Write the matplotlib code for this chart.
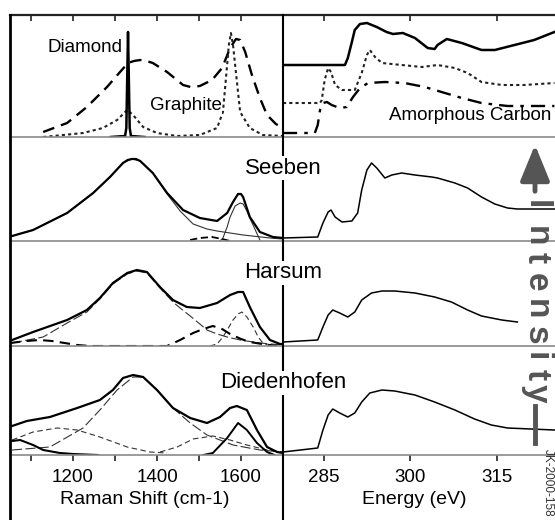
import matplotlib
matplotlib.use('Agg')
import matplotlib.pyplot as plt
from matplotlib.lines import Line2D
from matplotlib.patches import FancyArrowPatch

plt.rcParams['font.family'] = ['Liberation Sans', 'DejaVu Sans']

W, H = 555, 520     # figure size in pixels

# ── Data: reference spectra (top row) ────────────────────────────────────────
DIAMOND_X = [1290, 1324, 1327, 1329, 1331, 1333, 1335, 1338, 1370]
DIAMOND_Y = [0, 1, 9, 57, 105, 57, 9, 1, 0]

GRAPHITE_X = [1129, 1224, 1271, 1305, 1329, 1343, 1367, 1400, 1448, 1502, 1543,
              1557, 1567, 1571, 1576, 1581, 1586, 1598, 1621, 1652, 1700]
GRAPHITE_Y = [0, 4, 9, 17, 27, 22, 10, 4, 1, 2, 9, 25, 72, 92, 104, 92, 72, 25, 9, 2, 1]

GLASSY_X = [1129, 1186, 1233, 1281, 1312, 1331, 1345, 1360, 1375, 1390, 1424, 1462,
            1480, 1502, 1531, 1555, 1574, 1588, 1598, 1610, 1626, 1645, 1662, 1683, 1700]
GLASSY_Y = [5, 14, 30, 50, 65, 74, 76, 77, 76, 74, 65, 52, 50, 51, 57, 69, 89, 98, 97,
            85, 62, 39, 22, 13, 9]

REF_SOLID_E = [278, 288.7, 289.2, 289.9, 290.4, 291.3, 292.5, 294.2, 295.9, 297.0,
               298.7, 300.8, 303.0, 304.2, 304.7, 306.3, 308.9, 312.3, 314.6, 318.0,
               321.4, 324.9]
REF_SOLID_I = [72, 72, 79, 95, 107, 113, 114, 110, 105, 103, 104, 99, 89, 88, 92, 98,
               94, 87, 87, 92, 97, 105]

REF_DOT_E = [278, 284.4, 284.7, 285.2, 285.8, 286.3, 287.0, 288.2, 290.4, 291.6, 292.5,
             293.0, 293.9, 295.1, 298.5, 302.0, 304.7, 307.7, 309.9, 312.3, 315.8,
             319.7, 324.9]
REF_DOT_I = [34, 34, 37, 57, 69, 65, 52, 47, 47, 64, 82, 87, 80, 74, 72, 70, 72, 69, 64,
             55, 52, 52, 54]

REF_DASH_E = [278, 283.5, 284.0, 284.4, 284.9, 285.6, 286.4, 287.8, 289.0, 290.1, 291.3,
              292.7, 295.6, 299.0, 302.5, 305.4, 308.9, 312.3, 316.8, 324.9]
REF_DASH_I = [4, 4, 12, 27, 34, 35, 32, 29, 30, 40, 49, 54, 55, 54, 50, 45, 39, 34, 31, 31]

# ── Data: Seeben ─────────────────────────────────────────────────────────────
SEEBEN_SUM_X = [1055, 1105, 1186, 1248, 1288, 1319, 1330, 1340, 1350, 1360, 1390, 1424,
                1462, 1502, 1543, 1567, 1581, 1593, 1600, 1605, 1621, 1645, 1676, 1700]
SEEBEN_SUM_Y = [5, 11, 28, 48, 64, 78, 81, 82, 82, 80, 68, 48, 31, 23, 20, 28, 39, 47,
                47, 44, 24, 9, 4, 3]
SEEBEN_D_X = [1055, 1105, 1186, 1248, 1288, 1319, 1340, 1360, 1390, 1424, 1455, 1486,
              1519, 1543, 1605, 1669, 1700]
SEEBEN_D_Y = [5, 11, 28, 48, 64, 78, 82, 80, 68, 47, 30, 17, 12, 10, 6, 3, 2]
SEEBEN_G_X = [1550, 1557, 1567, 1574, 1586, 1598, 1605, 1614, 1621, 1633, 1645]
SEEBEN_G_Y = [0, 3, 14, 24, 35, 38, 37, 30, 23, 12, 1]
SEEBEN_D3_X = [1479, 1502, 1531, 1555, 1574]
SEEBEN_D3_Y = [1, 3, 4, 2, 0]

SEEBEN_E = [278, 284.0, 284.9, 285.8, 286.3, 287.0, 288.2, 289.9, 290.9, 291.6, 292.5,
            293.3, 294.2, 295.6, 296.8, 298.5, 300.8, 303.7, 304.7, 307.7, 309.9, 312.3,
            314.6, 316.8, 318.5, 324.9]
SEEBEN_XAS = [3, 4, 18, 29, 31, 24, 19, 20, 28, 51, 71, 78, 73, 63, 66, 68, 66, 64, 63,
              58, 53, 44, 37, 33, 32, 32]

# ── Data: Harsum ─────────────────────────────────────────────────────────────
HARSUM_SUM_X = [1055, 1105, 1186, 1233, 1264, 1295, 1329, 1352, 1376, 1407, 1438, 1471,
                1502, 1543, 1574, 1593, 1605, 1621, 1645, 1669, 1693, 1700]
HARSUM_SUM_Y = [6, 14, 26, 36, 48, 63, 73, 76, 74, 59, 46, 39, 38, 43, 51, 54, 54, 39,
                19, 6, 2, 2]
HARSUM_D_X = [1055, 1129, 1186, 1233, 1264, 1295, 1329, 1352, 1376, 1407, 1438, 1455,
              1479, 1502, 1519, 1543, 1567, 1598, 1645, 1700]
HARSUM_D_Y = [3, 9, 23, 34, 47, 62, 72, 75, 73, 58, 44, 38, 30, 22, 16, 12, 9, 6, 3, 1]
HARSUM_G_X = [1526, 1543, 1557, 1567, 1581, 1593, 1602, 1614, 1629, 1641, 1652, 1669]
HARSUM_G_Y = [0, 2, 9, 16, 26, 32, 34, 29, 19, 9, 3, 0]
HARSUM_D3_X = [1050, 1090, 1120, 1150, 1180, 1210, 1240, 1424, 1455, 1486, 1510, 1533,
               1555, 1574, 1600, 1621, 1650, 1686]
HARSUM_D3_Y = [3, 5, 6, 5, 3, 1, 0, 0, 6, 13, 17, 20, 17, 12, 7, 4, 2, 0]

HARSUM_E = [278, 284.0, 284.9, 285.8, 286.6, 287.8, 289.2, 290.4, 291.6, 293.3, 295.1,
            297.3, 300.8, 304.2, 307.1, 309.9, 312.3, 315.8, 318.5]
HARSUM_XAS = [4, 6, 19, 31, 36, 33, 29, 34, 46, 53, 55, 55, 53, 49, 44, 36, 30, 26, 24]

# ── Data: Diedenhofen ────────────────────────────────────────────────────────
DIED_SUM_X = [1055, 1090, 1145, 1210, 1264, 1295, 1319, 1343, 1367, 1400, 1438, 1479,
              1519, 1550, 1574, 1590, 1614, 1638, 1662, 1686, 1700]
DIED_SUM_Y = [29, 34, 38, 47, 55, 65, 77, 80, 78, 65, 47, 37, 32, 38, 47, 49, 45, 25,
              8, 3, 2]
DIED_D_X = [1055, 1145, 1224, 1264, 1305, 1343, 1367, 1400, 1438, 1479, 1519, 1581,
            1645, 1700]
DIED_D_Y = [5, 8, 27, 45, 65, 78, 78, 65, 47, 32, 20, 10, 5, 3]
DIED_D4_X = [1055, 1105, 1162, 1210, 1264, 1329, 1383, 1424]
DIED_D4_Y = [15, 23, 27, 25, 18, 8, 3, 2]
DIED_D3_X = [1407, 1448, 1486, 1533, 1574, 1614, 1662, 1700]
DIED_D3_Y = [3, 8, 16, 19, 15, 10, 5, 3]
DIED_G_X = [1510, 1533, 1567, 1593, 1614, 1638, 1662, 1680]
DIED_G_Y = [0, 2, 17, 32, 25, 12, 3, 0]
DIED_LOW_X = [1055, 1074, 1105, 1129, 1169, 1200, 1260]
DIED_LOW_Y = [14, 15, 10, 5, 2, 1, 0]

DIED_E = [278, 284.0, 284.9, 285.8, 286.6, 287.8, 289.2, 290.4, 291.6, 293.0, 295.1,
          297.3, 300.8, 304.2, 307.7, 311.1, 314.0, 316.8, 324.9]
DIED_XAS = [3, 7, 25, 40, 46, 42, 38, 42, 53, 62, 65, 64, 60, 53, 45, 36, 30, 27, 25]

SAMPLES = ['Seeben', 'Harsum', 'Diedenhofen']
RAMAN_MAJOR = [1200, 1400, 1600]
RAMAN_MINOR = [1100, 1300, 1500, 1700]
ENERGY_TICKS = [285, 300, 315]

# ── Layout (pixel coordinates, origin top-left) ──────────────────────────────
ROWS = [(15, 137), (137, 241), (241, 346), (346, 455)]
COLS = [(10, 283), (283, 555)]
XLIMS = [(1050, 1700), (278, 325)]

def fx(px):
    return px / W

def fy(py):
    return 1 - py / H

fig = plt.figure(figsize=(W / 100, H / 100), dpi=100)

axes = []
for r, (y0, y1) in enumerate(ROWS):
    row = []
    for c, (x0, x1) in enumerate(COLS):
        ax = fig.add_axes([fx(x0), fy(y1), (x1 - x0) / W, (y1 - y0) / H])
        ax.set_facecolor('none')
        ax.set_xlim(*XLIMS[c])
        ax.set_ylim(0, y1 - y0)
        for s in ax.spines.values():
            s.set_visible(False)
        ax.set_yticks([])
        ax.tick_params(axis='x', which='both', bottom=False, top=False,
                       labelbottom=False, labeltop=False, length=4, width=1.2,
                       color='#222222')
        row.append(ax)
    axes.append(row)

THICK = dict(color='black', lw=1.6)
THIN = dict(color='#333333', lw=0.8)

# Top row: reference materials
ax = axes[0][0]
ax.plot(GLASSY_X, GLASSY_Y, color='black', lw=1.7, dashes=(5, 3))
ax.plot(GRAPHITE_X, GRAPHITE_Y, color='#222222', lw=1.5, dashes=(1.5, 1.5))
ax.plot(DIAMOND_X, DIAMOND_Y, color='black', lw=1.8)
ax.text(1317, 89, 'Diamond', ha='right', va='center', fontsize=13.5)
ax.text(1383, 32, 'Graphite', ha='left', va='center', fontsize=13.5,
        bbox=dict(facecolor='white', edgecolor='none', pad=0))

ax = axes[0][1]
ax.plot(REF_SOLID_E, REF_SOLID_I, color='black', lw=1.8)
ax.plot(REF_DOT_E, REF_DOT_I, color='#222222', lw=1.5, dashes=(1.5, 1.5))
ax.plot(REF_DASH_E, REF_DASH_I, color='black', lw=1.7, dashes=(6, 3, 1.5, 3))
ax.text(324.4, 22, 'Amorphous Carbon', ha='right', va='center', fontsize=13.5)

# Seeben
ax = axes[1][0]
ax.plot(SEEBEN_D_X, SEEBEN_D_Y, **THIN)
ax.plot(SEEBEN_G_X, SEEBEN_G_Y, **THIN)
ax.plot(SEEBEN_D3_X, SEEBEN_D3_Y, color='black', lw=1.3, dashes=(4, 2))
ax.plot(SEEBEN_SUM_X, SEEBEN_SUM_Y, **THICK)
axes[1][1].plot(SEEBEN_E, SEEBEN_XAS, color='black', lw=1.1)

# Harsum
ax = axes[2][0]
ax.plot(HARSUM_D_X, HARSUM_D_Y, dashes=(9, 3), **THIN)
ax.plot(HARSUM_G_X, HARSUM_G_Y, dashes=(5, 3), **THIN)
ax.plot(HARSUM_D3_X, HARSUM_D3_Y, color='black', lw=1.5, dashes=(5, 3))
ax.plot(HARSUM_SUM_X, HARSUM_SUM_Y, **THICK)
axes[2][1].plot(HARSUM_E, HARSUM_XAS, color='black', lw=1.1)

# Diedenhofen
ax = axes[3][0]
ax.plot(DIED_D_X, DIED_D_Y, dashes=(9, 3), **THIN)
ax.plot(DIED_D4_X, DIED_D4_Y, dashes=(5, 3), **THIN)
ax.plot(DIED_D3_X, DIED_D3_Y, dashes=(5, 3), **THIN)
ax.plot(DIED_G_X, DIED_G_Y, color='black', lw=1.4)
ax.plot(DIED_LOW_X, DIED_LOW_Y, color='black', lw=1.5)
ax.plot(DIED_SUM_X, DIED_SUM_Y, **THICK)
axes[3][1].plot(DIED_E, DIED_XAS, color='black', lw=1.1)

# Ticks: inward on top frame, outward under the bottom panels
for c, ax in enumerate(axes[0]):
    if c == 0:
        ax.set_xticks(RAMAN_MAJOR + RAMAN_MINOR)
    else:
        ax.set_xticks(ENERGY_TICKS)
    ax.tick_params(axis='x', top=True, direction='in')

ax = axes[3][0]
ax.set_xticks(RAMAN_MAJOR)
ax.set_xticks(RAMAN_MINOR, minor=True)
ax = axes[3][1]
ax.set_xticks(ENERGY_TICKS)
for ax in axes[3]:
    ax.tick_params(axis='x', which='both', bottom=True, direction='out')
    ax.tick_params(axis='x', which='major', labelbottom=True, labelsize=13.5, pad=6)

fig.text(fx(145), fy(500), 'Raman Shift (cm-1)', ha='center', va='center', fontsize=14)
fig.text(fx(414), fy(500), 'Energy (eV)', ha='center', va='center', fontsize=14)

# Frame lines
def fig_line(x0, y0, x1, y1, **kw):
    fig.add_artist(Line2D([fx(x0), fx(x1)], [fy(y0), fy(y1)], **kw))

for y0, y1 in ROWS:
    fig_line(10, y1, W, y1, color='#8a8a8a', lw=1.2)
fig_line(10, 15, W, 15, color='#222222', lw=1.6)
fig_line(10, 15, 10, H, color='black', lw=2.0)
fig_line(283, 15, 283, H, color='black', lw=1.5)

# Sample names sit on the centre line
for name, py in zip(SAMPLES, [168, 273, 383]):
    fig.text(fx(283), fy(py), name, ha='center', va='center', fontsize=16,
             bbox=dict(facecolor='white', edgecolor='none', pad=1), zorder=5)

# Vertical "Intensity" arrow label
GREY = '#555555'
fig.add_artist(FancyArrowPatch(
    (fx(535), fy(194)), (fx(535), fy(142)), transform=fig.transFigure,
    arrowstyle='-|>,head_length=1.1,head_width=0.45', mutation_scale=20,
    color=GREY, lw=3.5))
for letter, py in zip('Intensity', [205, 236, 258, 282, 309, 335, 357, 375, 393]):
    fig.text(fx(536), fy(py), letter, rotation=-90, ha='center', va='center',
             fontsize=24, fontweight='heavy', color=GREY)
fig_line(535, 406, 535, 443, color=GREY, lw=3.5)

fig.text(fx(548), fy(449), 'JK-2000-158', rotation=-90, ha='center', va='top',
         fontsize=8.5, color='#333333')

fig.savefig('out.png', dpi=100, facecolor='white')
